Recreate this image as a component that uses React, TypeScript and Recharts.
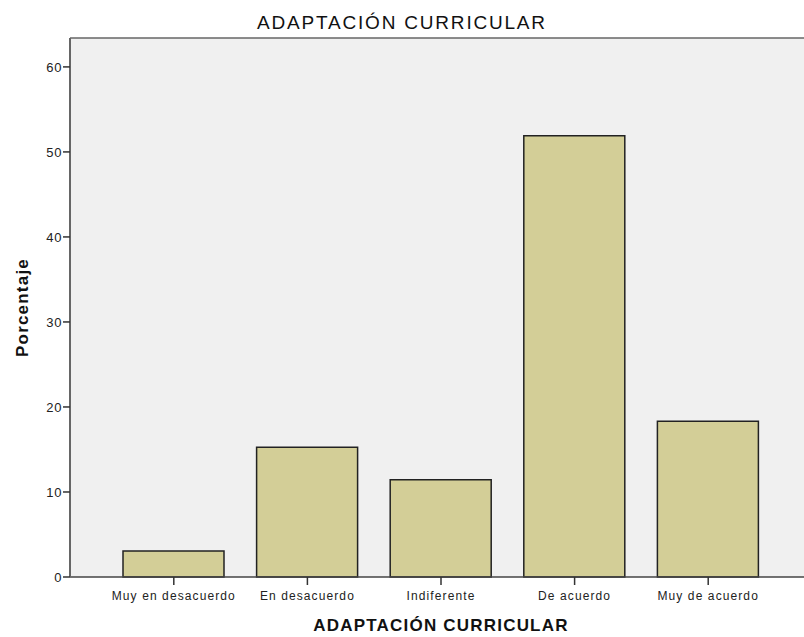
import { Bar, BarChart, CartesianGrid, Label, ReferenceLine, XAxis, YAxis } from "recharts";

const categories = ["Muy en desacuerdo", "En desacuerdo", "Indiferente", "De acuerdo", "Muy de acuerdo"];
const porcentaje = [3.05, 15.27, 11.45, 51.91, 18.32];
const yTicks = [0, 10, 20, 30, 40, 50, 60];
const yMax = 63.4;

const data = categories.map((name, i) => ({ name, value: porcentaje[i] }));

const font = "'Liberation Sans', Arial, sans-serif";

export default function App() {
  return (
    <div style={{ position: "absolute", left: 0, top: 0, width: 804, height: 637, overflow: "hidden", background: "#fff" }}>
      <div
        style={{
          position: "absolute",
          top: 12,
          left: 0,
          width: 804,
          textAlign: "center",
          fontFamily: font,
          fontSize: 19,
          letterSpacing: 1.8,
          color: "#111"
        }}
      >
        ADAPTACIÓN CURRICULAR
      </div>
      <BarChart width={812} height={637} data={data} margin={{ top: 38, right: 0, left: 30, bottom: 8 }}>
        <CartesianGrid fill="#f0f0f0" horizontal={false} vertical={false} />
        <ReferenceLine y={yMax} stroke="#666" strokeWidth={1.5} />
        <XAxis
          dataKey="name"
          padding={{ left: 37, right: 37 }}
          axisLine={{ stroke: "#444", strokeWidth: 1.5 }}
          tickLine={{ stroke: "#333", strokeWidth: 1.5 }}
          tickSize={8}
          tickMargin={6}
          height={52}
          tick={{ fill: "#222", fontSize: 12, fontFamily: font, letterSpacing: 1.1 }}
        >
          <Label
            value="ADAPTACIÓN CURRICULAR"
            position="insideBottom"
            offset={-2}
            style={{ fill: "#111", fontSize: 17, fontWeight: 700, fontFamily: font, letterSpacing: 1.2 }}
          />
        </XAxis>
        <YAxis
          domain={[0, yMax]}
          ticks={yTicks}
          width={40}
          axisLine={{ stroke: "#666", strokeWidth: 2 }}
          tickLine={{ stroke: "#333", strokeWidth: 1.5 }}
          tickSize={7}
          tickMargin={1}
          tick={{ fill: "#222", fontSize: 13, fontFamily: font, letterSpacing: 0.6 }}
        >
          <Label
            value="Porcentaje"
            angle={-90}
            position="insideLeft"
            offset={-8}
            style={{ fill: "#111", fontSize: 17, fontWeight: 700, fontFamily: font, letterSpacing: 1.2, textAnchor: "middle" }}
          />
        </YAxis>
        <Bar dataKey="value" fill="#d3ce97" stroke="#222" strokeWidth={1.5} barSize={101} isAnimationActive={false} />
      </BarChart>
    </div>
  );
}
